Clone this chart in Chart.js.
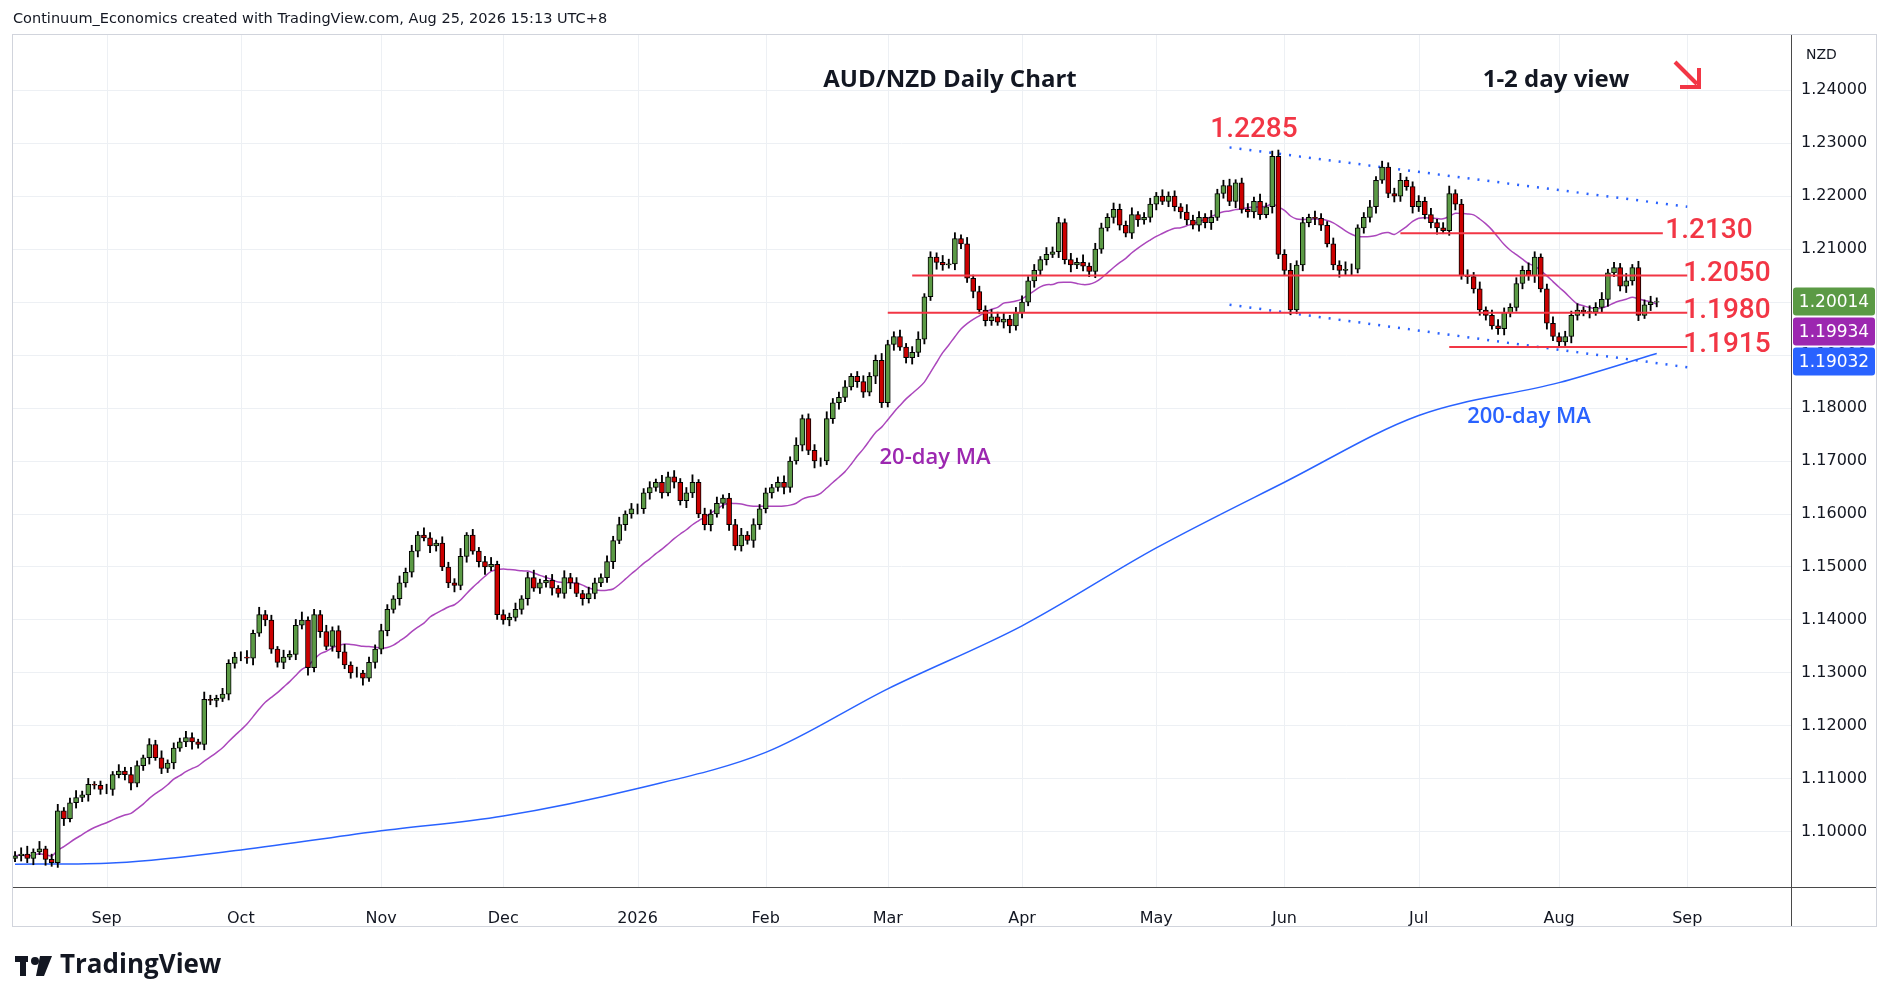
<!DOCTYPE html>
<html><head><meta charset="utf-8">
<script src="https://cdn.jsdelivr.net/npm/chart.js@4.4.1/dist/chart.umd.min.js"></script>
<style>html,body{margin:0;padding:0;background:#fff}#wrap{position:relative;width:1888px;height:1002px}</style>
</head><body><div id="wrap"><canvas id="c" width="1888" height="1002"></canvas></div>
<script>
// daily closes, Aug 11 2025 -> Aug 25 2026 (weekdays, Dec 25 / Jan 1 skipped)
const closeAug25 = [1.0955,1.0958,1.0950,1.0962,1.0968,1.0948,1.0942,1.1040,1.1025,1.1055,1.1065,1.1070,1.1090,1.1088,1.1080];
const closeSep25 = [1.1080,1.1108,1.1115,1.1108,1.1092,1.1125,1.1140,1.1165,1.1140,1.1120,1.1130,1.1158,1.1170,1.1178,1.1170,1.1165,1.1250,1.1248,1.1252,1.1260,1.1318,1.1330];
const closeOct25 = [1.1330,1.1328,1.1375,1.1410,1.1400,1.1345,1.1320,1.1330,1.1335,1.1390,1.1400,1.1310,1.1410,1.1378,1.1350,1.1380,1.1340,1.1315,1.1300,1.1300,1.1290,1.1320,1.1345];
const closeNov25 = [1.1380,1.1420,1.1440,1.1470,1.1490,1.1530,1.1560,1.1555,1.1540,1.1545,1.1500,1.1470,1.1465,1.1520,1.1560,1.1530,1.1510,1.1500,1.1505,1.1410];
const closeDec25 = [1.1400,1.1405,1.1420,1.1440,1.1480,1.1460,1.1470,1.1475,1.1460,1.1450,1.1480,1.1470,1.1450,1.1440,1.1450,1.1470,1.1480,1.1510,1.1550,1.1580,1.1600,1.1610];
const closeJan26 = [1.1610,1.1640,1.1650,1.1660,1.1640,1.1670,1.1660,1.1625,1.1640,1.1660,1.1600,1.1580,1.1600,1.1620,1.1630,1.1580,1.1540,1.1560,1.1550,1.1580,1.1610];
const closeFeb26 = [1.1640,1.1650,1.1660,1.1650,1.1700,1.1730,1.1780,1.1720,1.1700,1.1700,1.1780,1.1810,1.1820,1.1840,1.1860,1.1850,1.1830,1.1860,1.1890,1.1810];
const closeMar26 = [1.1920,1.1935,1.1915,1.1895,1.1905,1.1930,1.2010,1.2085,1.2075,1.2070,1.2072,1.2120,1.2110,1.2045,1.2020,1.1985,1.1965,1.1972,1.1962,1.1968,1.1955,1.1980];
const closeApr26 = [1.2000,1.2040,1.2060,1.2080,1.2090,1.2095,1.2150,1.2080,1.2070,1.2075,1.2068,1.2058,1.2100,1.2140,1.2160,1.2175,1.2145,1.2130,1.2165,1.2155,1.2160,1.2185];
const closeMay26 = [1.2200,1.2190,1.2200,1.2180,1.2170,1.2155,1.2145,1.2160,1.2150,1.2160,1.2205,1.2220,1.2190,1.2225,1.2175,1.2170,1.2190,1.2165,1.2180,1.2275,1.2090];
const closeJun26 = [1.2060,1.1985,1.2070,1.2150,1.2160,1.2158,1.2145,1.2110,1.2070,1.2060,1.2062,1.2062,1.2140,1.2160,1.2180,1.2230,1.2255,1.2205,1.2200,1.2230,1.2218,1.2180];
const closeJul26 = [1.2190,1.2165,1.2150,1.2140,1.2135,1.2205,1.2185,1.2050,1.2048,1.2025,1.1985,1.1975,1.1955,1.1950,1.1980,1.1990,1.2035,1.2060,1.2050,1.2085,1.2025,1.1960,1.1935];
const closeAug26 = [1.1925,1.1935,1.1975,1.1985,1.1982,1.1981,1.1990,1.2005,1.2055,1.2065,1.2030,1.2040,1.2065,1.1975,1.1995,1.2000,1.2001];
// wick lengths in pips above / below the body
const wickUp = [8,12,15,6,14,5,10,12,6,9,13,7,11,5,8, 10,6,12,7,14,9,5,11,8,13,6,10,7,12,9,5,14,8,6,11,7,9,
 10,12,6,14,8,9,5,13,7,11,15,6,10,8,12,7,9,14,6,11,5,10,8,12, 9,6,13,8,11,7,14,10,6,12,9,8,15,5,11,7,10,13,6,9,
 8,12,6,10,14,7,9,11,5,13,8,10,6,12,9,7,11,8,14,6,10,9, 8,11,6,13,9,12,7,10,14,5,11,8,12,6,9,10,13,7,11,8,9,
 6,10,12,8,14,7,9,11,6,13,8,10,12,5,9,11,7,10,13,8, 9,12,7,11,14,6,10,8,13,9,11,7,12,6,10,8,14,9,11,7,10,12,
 8,11,6,13,9,10,7,12,8,14,6,11,9,7,12,10,8,13,6,9,11,7, 12,8,10,6,14,9,11,7,13,8,10,12,6,9,11,8,14,7,10,12,9,
 13,8,10,6,12,9,7,11,8,14,10,6,9,12,7,11,8,10,13,6,9,11, 8,12,6,10,14,7,9,11,8,13,6,10,12,9,7,11,8,14,10,6,9,12,7,
 10,8,12,6,11,9,13,7,10,8,14,6,12,9,11,7,8];
const wickDn = [6,10,8,12,5,11,7,9,13,6,10,8,12,7,9, 8,11,6,10,13,7,9,12,5,10,8,11,6,9,14,7,10,8,12,6,11,9,
 7,10,13,6,11,8,9,12,5,10,7,14,8,11,6,9,12,7,10,8,13,6,11,9, 10,7,12,8,9,11,6,13,10,7,9,12,8,11,6,10,14,7,9,8,
 11,7,9,12,6,10,8,13,7,9,11,6,12,8,10,7,9,13,6,11,8,10, 9,12,7,10,6,11,8,13,9,7,10,12,6,9,11,8,10,7,13,9,8,
 10,7,12,9,6,11,8,13,10,7,9,12,8,6,11,10,7,14,9,8, 11,6,10,12,8,9,7,13,10,6,11,9,8,12,7,10,9,6,11,13,8,10,
 7,12,9,10,6,11,8,13,7,9,10,12,8,6,11,9,7,10,12,8,9,11, 6,10,8,12,9,7,11,10,13,6,9,8,12,7,10,11,9,6,12,8,10,
 9,7,11,8,12,10,6,9,13,8,11,7,10,9,12,6,8,11,10,7,12,9, 8,10,12,6,9,11,7,13,8,10,9,6,11,12,8,7,10,9,13,6,11,8,10,
 7,12,9,8,11,6,10,13,7,9,12,8,10,6,11,9,7];
// 200-day MA read at month starts (day index, value)
const ma200Idx = [0,15,37,60,80,102,123,143,165,187,208,230,253,269];
const ma200Val = [1.0939,1.0941,1.0966,1.1002,1.1030,1.1082,1.1150,1.1270,1.1389,1.1536,1.1660,1.1786,1.1848,1.1903];
// x-axis month labels at first trading day
const monthIdx = [15,37,60,80,102,123,143,165,187,208,230,253,274];
const monthLbl = ['Sep','Oct','Nov','Dec','2026','Feb','Mar','Apr','May','Jun','Jul','Aug','Sep'];
// support / resistance levels
const levels = [
  {v:1.2130, from:227, to:270, label:'1.2130', lx:1709},
  {v:1.2050, from:147, to:274, label:'1.2050', lx:1727},
  {v:1.1980, from:143, to:274, label:'1.1980', lx:1727},
  {v:1.1915, from:235, to:274, label:'1.1915', lx:1727}
];
const channelTop = [[199,1.2292],[274,1.2180]];
const channelBot = [[199,1.1995],[274,1.1877]];

const closes = [].concat(closeAug25,closeSep25,closeOct25,closeNov25,closeDec25,closeJan26,closeFeb26,closeMar26,closeApr26,closeMay26,closeJun26,closeJul26,closeAug26);
const opens = closes.map((c,i) => i ? closes[i-1] : 1.0950);
const bodies = closes.map((c,i) => ({x:i, y:[opens[i], c]}));
const wicks = closes.map((c,i) => ({x:i, y:[Math.min(opens[i],c)-wickDn[i]/10000, Math.max(opens[i],c)+wickUp[i]/10000]}));
const ma20 = closes.map((c,i) => { const s = closes.slice(Math.max(0,i-19), i+1); return {x:i, y:s.reduce((a,b)=>a+b,0)/s.length}; });
const ma200 = ma200Idx.map((x,i) => ({x, y:ma200Val[i]}));
const UP = '#5b9a45', DN = '#cc0000', RED = '#f23645', BLUE = '#2962ff', PURP = '#9c27b0';

const monthGrid = {
  id: 'monthGrid',
  beforeDatasetsDraw(chart) {
    const {ctx, scales:{x}, chartArea:a} = chart;
    ctx.save(); ctx.strokeStyle = '#edf0f4'; ctx.lineWidth = 1;
    monthIdx.forEach(m => { const px = Math.round(x.getPixelForValue(m)) + 0.5;
      ctx.beginPath(); ctx.moveTo(px, a.top); ctx.lineTo(px, a.bottom); ctx.stroke(); });
    ctx.restore();
  }
};

const overlay = {
  id: 'overlay',
  afterDatasetsDraw(chart) {
    const {ctx, scales:{x, y}, chartArea:a} = chart;
    ctx.save();
    const lvlFont = '500 28px Roboto';
    levels.forEach(l => {
      const py = y.getPixelForValue(l.v);
      ctx.strokeStyle = RED; ctx.lineWidth = 2;
      ctx.beginPath(); ctx.moveTo(x.getPixelForValue(l.from), py); ctx.lineTo(x.getPixelForValue(l.to), py); ctx.stroke();
      ctx.fillStyle = RED; ctx.font = lvlFont; ctx.textBaseline = 'middle'; ctx.textAlign = 'center';
      ctx.fillText(l.label, l.lx, py - 2);
    });
    ctx.fillStyle = RED; ctx.font = lvlFont; ctx.textAlign = 'center';
    ctx.fillText('1.2285', 1254, 130);
    ctx.fillStyle = '#131722'; ctx.font = 'bold 24px "Open Sans"';
    ctx.fillText('AUD/NZD Daily Chart', 950, 80);
    ctx.fillText('1-2 day view', 1556, 80);
    ctx.font = '600 22px "Open Sans"';
    ctx.fillStyle = PURP; ctx.fillText('20-day MA', 935, 458);
    ctx.fillStyle = BLUE; ctx.fillText('200-day MA', 1529, 417);
    // arrow
    ctx.strokeStyle = RED; ctx.lineWidth = 4;
    ctx.beginPath(); ctx.moveTo(1675, 62); ctx.lineTo(1697, 84); ctx.stroke();
    ctx.beginPath(); ctx.moveTo(1699, 68); ctx.lineTo(1699, 87); ctx.lineTo(1680, 87); ctx.stroke();
    // axis frame
    ctx.strokeStyle = '#4a4a4a'; ctx.lineWidth = 1;
    ctx.beginPath(); ctx.moveTo(a.right+0.5, 34); ctx.lineTo(a.right+0.5, 926); ctx.stroke();
    ctx.beginPath(); ctx.moveTo(12, a.bottom+0.5); ctx.lineTo(1876, a.bottom+0.5); ctx.stroke();
    ctx.strokeStyle = '#d1d4dc';
    ctx.strokeRect(12.5, 34.5, 1864, 892);
    // price tags
    const tags = [[closes[closes.length-1],'1.20014','#5b9a45'],[ma20[ma20.length-1].y,'1.19934',PURP],[ma200Val[ma200Val.length-1],'1.19032',BLUE]];
    let prev = -100;
    tags.forEach(t => {
      let py = Math.max(y.getPixelForValue(t[0]), prev + 30); prev = py;
      ctx.fillStyle = t[2]; ctx.beginPath(); ctx.roundRect(a.right+2, py-14, 82, 28, 3); ctx.fill();
      ctx.fillStyle = '#fff'; ctx.font = '17px "DejaVu Sans"'; ctx.textAlign = 'center'; ctx.textBaseline = 'middle';
      ctx.fillText(t[1], a.right+43, py+1);
    });
    ctx.fillStyle = '#131722'; ctx.font = '14px "DejaVu Sans"'; ctx.textAlign = 'left';
    ctx.fillText('NZD', 1806, 55);
    ctx.font = '14.5px "DejaVu Sans"'; ctx.fillText('Continuum_Economics created with TradingView.com, Aug 25, 2026 15:13 UTC+8', 13, 19);
    ctx.font = 'bold 26px "Open Sans"'; ctx.fillText('TradingView', 60, 966);
    ctx.fillStyle = '#131722'; ctx.fillRect(15, 956, 13, 6); ctx.fillRect(20, 956, 6, 20);
    ctx.beginPath(); ctx.arc(35, 961, 4, 0, 7); ctx.fill();
    ctx.beginPath(); ctx.moveTo(40, 956); ctx.lineTo(52, 956); ctx.lineTo(44, 976); ctx.lineTo(36, 976); ctx.fill();
    ctx.restore();
  }
};

new Chart(document.getElementById('c'), {
  data: {
    datasets: [
      { type:'line', data:ma200, borderColor:BLUE, borderWidth:1.5, pointRadius:0, cubicInterpolationMode:'monotone', order:5 },
      { type:'line', data:ma20, borderColor:'#ab47bc', borderWidth:1.5, pointRadius:0, tension:0.3, order:4 },
      { type:'line', data:channelTop.map(p=>({x:p[0],y:p[1]})), borderColor:BLUE, borderWidth:2.5, borderDash:[2,8], pointRadius:0, order:3 },
      { type:'line', data:channelBot.map(p=>({x:p[0],y:p[1]})), borderColor:BLUE, borderWidth:2.5, borderDash:[2,8], pointRadius:0, order:3 },
      { type:'bar', data:wicks, backgroundColor:'#000', barThickness:1.2, grouped:false, order:2 },
      { type:'bar', data:bodies, backgroundColor:closes.map((c,i)=>c>=opens[i]?UP:DN), borderColor:'#000', borderWidth:1, borderSkipped:false, barThickness:5, grouped:false, order:1 }
    ]
  },
  options: {
    responsive:false, animation:false,
    layout:{ padding:{ left:12, top:34, right:0, bottom:0 } },
    plugins:{ legend:{display:false}, tooltip:{enabled:false} },
    scales:{
      x:{ type:'linear', min:-0.5, max:291, offset:false,
        afterBuildTicks: s => { s.ticks = monthIdx.map(v=>({value:v})); },
        afterFit: s => { s.height = 115; },
        grid:{ display:false }, border:{display:false},
        ticks:{ callback:(v)=>monthLbl[monthIdx.indexOf(v)], color:'#131722', font:{size:16, family:'DejaVu Sans'}, padding:14, maxRotation:0, autoSkip:false } },
      y:{ position:'right', min:1.0896, max:1.2506,
        afterBuildTicks: s => { const t=[]; for (let k=110;k<=124;k++) t.push({value:k/100}); s.ticks=t; },
        afterFit: s => { s.width = 97; },
        grid:{ color:'#edf0f4', drawTicks:false }, border:{display:false},
        ticks:{ callback:v=>v.toFixed(5), color:'#131722', font:{size:16, family:'DejaVu Sans'}, padding:10 } }
    }
  },
  plugins:[monthGrid, overlay]
});
</script></body></html>
